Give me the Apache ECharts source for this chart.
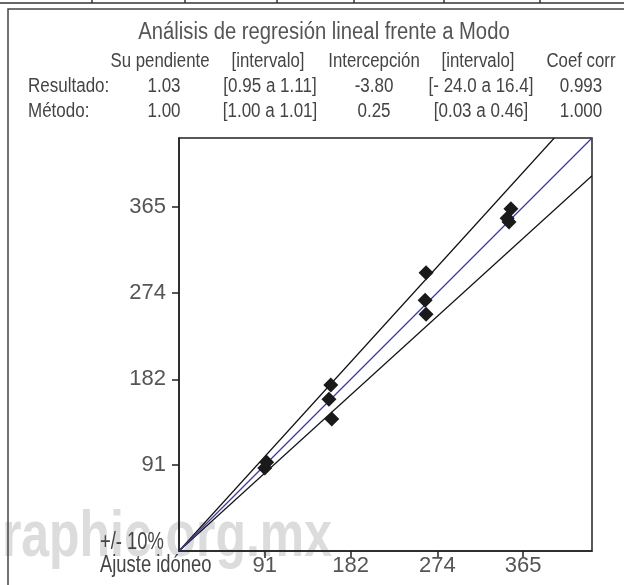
<!DOCTYPE html>
<html>
<head>
<meta charset="utf-8">
<script src="https://cdn.jsdelivr.net/npm/echarts@6/dist/echarts.min.js"></script>
<style>
html,body{margin:0;padding:0;background:#fff;}
#chart{width:624px;height:585px;}
</style>
</head>
<body>
<div id="chart"></div>
<script>
// ---- data ----
var title = 'Análisis de regresión lineal frente a Modo';
var headers = ['Su pendiente', '[intervalo]', 'Intercepción', '[intervalo]', 'Coef corr'];
var rowLabels = ['Resultado:', 'Método:'];
var rowResultado = ['1.03', '[0.95 a 1.11]', '-3.80', '[- 24.0 a 16.4]', '0.993'];
var rowMetodo = ['1.00', '[1.00 a 1.01]', '0.25', '[0.03 a 0.46]', '1.000'];
var tickValues = [91, 182, 274, 365];
var axisMax = 438;
var pointsX = [91, 93, 161, 159, 162, 262, 261, 262, 352, 348, 350];
var pointsY = [88, 94, 176, 161, 140, 295, 266, 251, 363, 353, 349];
var identityLine = [[0, 0], [438, 438]];
var upperLine = [[0, 0], [398, 438]];
var lowerLine = [[0, 0], [438, 398]];
var bottomLabels = ['+/- 10%', 'Ajuste idóneo'];
var watermark = 'graphic.org.mx';

var FONT = '"Liberation Sans", Arial, sans-serif';
var chart = echarts.init(document.getElementById('chart'));

var colCenters = [164, 270, 374, 481, 581];
var headerCenters = [160, 268, 374, 478, 581];
var gtexts = [];
function txt(x, y, s, size, align, color, sx) {
  gtexts.push({type: 'text', x: x, y: y, z: 10, scaleX: sx || 0.85,
    style: {text: s, font: size + 'px ' + FONT, fill: color || '#444', textAlign: align || 'center', textVerticalAlign: 'middle'}});
}
// watermark
gtexts.push({type: 'text', x: 332, y: 538, z: -10, silent: true, scaleX: 0.78,
  style: {text: watermark, font: 'bold 64px ' + FONT, fill: '#dcdcdc', textAlign: 'right', textVerticalAlign: 'middle'}});
txt(324, 33, title, 23, 'center', '#555', 0.88);
headers.forEach(function (h, i) { txt(headerCenters[i], 61, h, 20, 'center', '#444', 0.84); });
txt(28, 86, rowLabels[0], 20, 'left', '#444');
txt(28, 111, rowLabels[1], 20, 'left', '#444');
rowResultado.forEach(function (h, i) { txt(colCenters[i], 86, h, 20, 'center', '#444'); });
rowMetodo.forEach(function (h, i) { txt(colCenters[i], 111, h, 20, 'center', '#444'); });
txt(100, 543, bottomLabels[0], 23, 'left', '#444', 0.8);
txt(100, 566, bottomLabels[1], 23, 'left', '#444', 0.8);
// frame + cut-off table row at top
var lineStyle = {stroke: '#333', lineWidth: 1.5};
gtexts.push({type: 'polyline', z: 5, shape: {points: [[8, 585], [8, 9], [624, 9]]}, style: {stroke: '#444', lineWidth: 1.5, fill: null}});
gtexts.push({type: 'line', z: 5, shape: {x1: 0, y1: 3, x2: 624, y2: 3}, style: lineStyle});
[92, 185, 277, 354, 444, 540].forEach(function (x) {
  gtexts.push({type: 'line', z: 5, shape: {x1: x, y1: 0, x2: x, y2: 3}, style: lineStyle});
});

var axisCommon = {
  type: 'value', min: 0, max: axisMax,
  splitLine: {show: false},
  axisLine: {show: true, onZero: false, lineStyle: {color: '#222', width: 1.5}},
  axisTick: {show: true, length: 7, customValues: tickValues, lineStyle: {color: '#222', width: 1.5}},
  axisLabel: {customValues: tickValues, fontFamily: FONT, fontSize: 22, color: '#555'}
};

chart.setOption({
  backgroundColor: '#fff',
  animation: false,
  grid: {left: 179, top: 138, width: 413, height: 413, show: true, borderColor: '#222', borderWidth: 1.5, backgroundColor: 'transparent'},
  xAxis: echarts.util.merge({axisLabel: {margin: 4}}, axisCommon, true),
  yAxis: echarts.util.merge({axisLabel: {margin: 13}}, axisCommon, true),
  graphic: gtexts,
  series: [
    {type: 'line', data: upperLine, symbol: 'none', lineStyle: {color: '#111', width: 1.2}, z: 2},
    {type: 'line', data: lowerLine, symbol: 'none', lineStyle: {color: '#111', width: 1.2}, z: 2},
    {type: 'line', data: identityLine, symbol: 'none', lineStyle: {color: '#3a3aa8', width: 1.2}, z: 3},
    {type: 'scatter', data: pointsX.map(function (x, i) { return [x, pointsY[i]]; }),
      symbol: 'diamond', symbolSize: 15, itemStyle: {color: '#1a1a1a', opacity: 1}, z: 4}
  ]
});
</script>
</body>
</html>
